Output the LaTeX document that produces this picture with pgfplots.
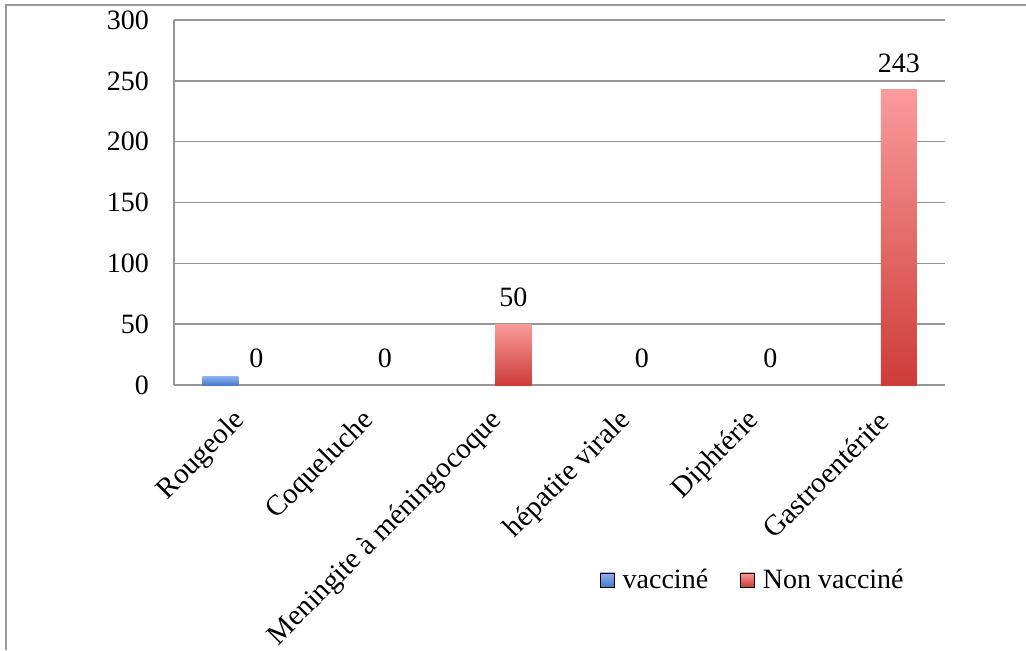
\documentclass[border=0pt]{standalone}
\usepackage{pgfplots}
\pgfplotsset{compat=1.18}
\usepackage{fontspec}
\setmainfont{Liberation Serif}
\definecolor{bluetop}{RGB}{140,178,235}
\definecolor{bluebot}{RGB}{72,122,205}
\definecolor{redtop}{RGB}{250,155,155}
\definecolor{redbot}{RGB}{205,60,55}
\definecolor{gridc}{RGB}{150,150,150}
\begin{document}
\begin{tikzpicture}
\path[use as bounding box] (0,0) rectangle (513pt,325pt);
\draw[gray!80, line width=1pt] (3pt,0) -- (3pt,322.5pt) -- (513pt,322.5pt);
\begin{axis}[
  at={(87pt,132.5pt)}, anchor=south west,
  scale only axis, width=385.5pt, height=182.5pt,
  ybar, bar width=18pt,
  xmin=-0.5, xmax=5.5, ymin=0, ymax=300,
  ytick={0,50,...,300},
  xtick={0,1,2,3,4,5},
  xticklabels={Rougeole,Coqueluche,Meningite à méningocoque,hépatite virale,Diphtérie,Gastroentérite},
  axis x line*=bottom, axis y line*=left,
  axis line style={gridc, line width=0.8pt},
  ymajorgrids, grid style={gridc, line width=0.8pt},
  major tick length=0pt,
  /pgf/number format/assume math mode=true,
  yticklabel style={font=\fontsize{14}{16}\selectfont, xshift=-9pt},
  xticklabel style={font=\fontsize{14.5}{16}\selectfont, xshift=3.9pt, yshift=-13.4pt, rotate=45, anchor=east},
  legend style={at={(0.752,-0.534)}, anchor=center, draw=none, legend columns=2,
    font=\fontsize{14}{16}\selectfont,
    /tikz/every odd column/.append style={column sep=2pt},
    /tikz/every even column/.append style={column sep=14pt}},
  clip=false,
]
% bars drawn one by one so that each bar has its own gradient
\addplot[forget plot, draw=none, bar shift=-9pt, top color=bluetop, bottom color=bluebot] coordinates {(0,7)};
\addplot[forget plot, draw=none, bar shift=9pt, top color=redtop, bottom color=redbot] coordinates {(2,50)};
\addplot[forget plot, draw=none, bar shift=9pt, top color=redtop, bottom color=redbot] coordinates {(5,243)};
% value labels of the "Non vacciné" series
\addplot[forget plot, draw=none, fill=none, bar shift=9pt,
  nodes near coords, every node near coord/.append style={font=\fontsize{14}{16}\selectfont, black, yshift=5pt}]
  coordinates {(0,0) (1,0) (2,50) (3,0) (4,0) (5,243)};
\addlegendimage{legend image code/.code={\path[top color=bluetop, bottom color=bluebot] (0pt,-3.5pt) rectangle (7pt,3.5pt);}}
\addlegendentry{vacciné}
\addlegendimage{legend image code/.code={\path[top color=redtop, bottom color=redbot] (0pt,-3.5pt) rectangle (7pt,3.5pt);}}
\addlegendentry{Non vacciné}
\end{axis}
\end{tikzpicture}
\end{document}
